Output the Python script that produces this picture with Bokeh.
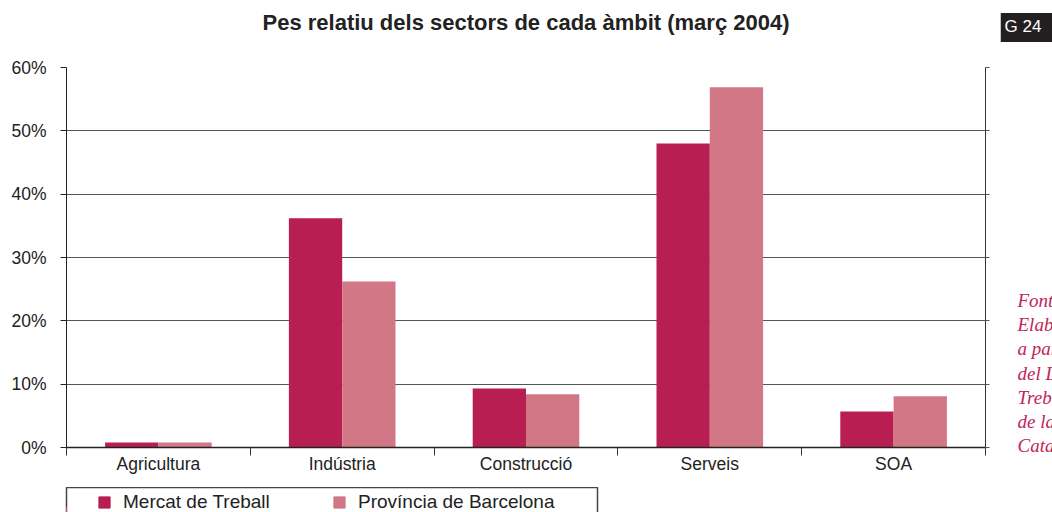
from bokeh.plotting import figure
from bokeh.models import (Range1d, FixedTicker, LinearAxis, Label, Legend, LegendItem, Title, ColumnDataSource)
from bokeh.layouts import column, row
from bokeh.transform import dodge
from bokeh.core.properties import value
from bokeh.embed import file_html
from bokeh.resources import INLINE

categories = ["Agricultura", "Indústria", "Construcció", "Serveis", "SOA"]
series_names = ["Mercat de Treball", "Província de Barcelona"]
mercat = [0.8, 36.2, 9.3, 48.0, 5.7]
provincia = [0.8, 26.2, 8.4, 56.9, 8.1]
y_ticks = [0, 10, 20, 30, 40, 50, 60]
y_tick_labels = ["0%", "10%", "20%", "30%", "40%", "50%", "60%"]
title_text = "Pes relatiu dels sectors de cada àmbit (març 2004)"
badge_text = "G 24"
source_lines = ["Font:", "Elaboració pròpia", "a partir de dades", "del Departament de",
                "Treball i Indústria", "de la Generalitat de", "Catalunya."]

c1 = "#B81E52"
c2 = "#D27786"
FONT = "Liberation Sans"

# ---------------- main chart ----------------
p = figure(width=1000, height=487, output_backend="svg", toolbar_location=None,
           x_range=Range1d(0, len(categories)), y_range=Range1d(0, 60),
           min_border_left=66, min_border_right=15, min_border_top=67, min_border_bottom=40)
p.outline_line_color = None
p.xgrid.visible = False
p.ygrid.ticker = FixedTicker(ticks=y_ticks)
p.ygrid.grid_line_color = "#555555"

centers = [i + 0.5 for i in range(len(categories))]
bw = 0.29
src = ColumnDataSource(dict(c=centers, m=mercat, pr=provincia))
p.vbar(x=dodge("c", -bw / 2), top="m", width=bw, source=src, fill_color=c1, line_color=None)
p.vbar(x=dodge("c", bw / 2), top="pr", width=bw, source=src, fill_color=c2, line_color=None)

xa = p.xaxis[0]
xa.ticker = FixedTicker(ticks=centers, minor_ticks=list(range(len(categories) + 1)))
xa.major_label_overrides = {c: n for c, n in zip(centers, categories)}
xa.major_tick_out = 0
xa.major_tick_in = 0
xa.minor_tick_out = 8
xa.minor_tick_in = 0
xa.minor_tick_line_color = "#333333"
xa.axis_line_color = "#222222"
xa.axis_line_width = 1.5
xa.major_label_standoff = -2
xa.major_label_text_font = FONT
xa.major_label_text_font_size = "17.5px"
xa.major_label_text_color = "#222222"

ya = p.yaxis[0]
ya.ticker = FixedTicker(ticks=y_ticks)
ya.major_label_overrides = {t: l for t, l in zip(y_ticks, y_tick_labels)}
ya.major_tick_out = 6
ya.major_tick_in = 0
ya.minor_tick_line_color = None
ya.axis_line_color = "#222222"
ya.major_tick_line_color = "#222222"
ya.major_label_standoff = 14
ya.major_label_text_font = FONT
ya.major_label_text_font_size = "17.5px"
ya.major_label_text_color = "#222222"

# right axis: only short tick marks, no labels
ra = LinearAxis(ticker=FixedTicker(ticks=[], minor_ticks=y_ticks))
ra.major_tick_line_color = None
ra.minor_tick_out = 4
ra.minor_tick_in = 0
ra.minor_tick_line_color = "#555555"
ra.axis_line_color = "#333333"
p.add_layout(ra, "right")

p.title.visible = False
p.add_layout(Title(text=" ", text_font_size="14px"), "above")
t = Title(text=title_text, align="center", text_font=FONT, text_font_size="22px",
          text_font_style="bold", text_color="#222222")
p.add_layout(t, "above")

# ---------------- legend panel ----------------
lf = figure(width=612, height=40, output_backend="svg", toolbar_location=None,
            x_range=Range1d(0, 1), y_range=Range1d(0, 1), x_axis_type=None, y_axis_type=None,
            min_border_left=66, min_border_right=15, min_border_top=0, min_border_bottom=0)
lf.grid.visible = False
lf.outline_line_color = "#444444"
lf.outline_line_width = 1.5
r1 = lf.vbar(x=[-10], top=[0.5], width=0.1, fill_color=c1, line_color=c1)
r2 = lf.vbar(x=[-10], top=[0.5], width=0.1, fill_color=c2, line_color=c2)
leg = Legend(items=[LegendItem(label=series_names[0], renderers=[r1]),
                    LegendItem(label=series_names[1], renderers=[r2])],
             orientation="horizontal", location=(31, 14), padding=0, margin=0,
             border_line_color=None, background_fill_alpha=0,
             glyph_width=14, glyph_height=14, label_height=14, label_standoff=12,
             label_width=190, spacing=19, label_text_font=FONT,
             label_text_font_size="19px", label_text_color="#222222",
             label_text_baseline="middle")
lf.add_layout(leg)

# ---------------- right side panel ----------------
rf = figure(width=52, height=487, output_backend="svg", toolbar_location=None,
            x_range=Range1d(0, 52), y_range=Range1d(487, 0), x_axis_type=None, y_axis_type=None,
            min_border=0)
rf.grid.visible = False
rf.outline_line_color = None
rf.add_layout(Label(x=0, y=27, text=badge_text, text_font=FONT, text_font_size="17px",
                    text_color="white", text_baseline="middle", text_align="left",
                    background_fill_color="#231f20", padding=(4, 12, 4, 6)))
line_y = [300 + 24.2 * i for i in range(len(source_lines))]
rf.text(x=[17] * len(source_lines), y=line_y, text=source_lines,
        text_font=value("Liberation Serif"), text_font_style="italic",
        text_font_size="19px", text_color="#C0245A", text_baseline="middle", text_align="left")

layout = row(column(p, lf, spacing=0), rf, spacing=0)
open("out.html", "w").write(file_html(layout, INLINE))
